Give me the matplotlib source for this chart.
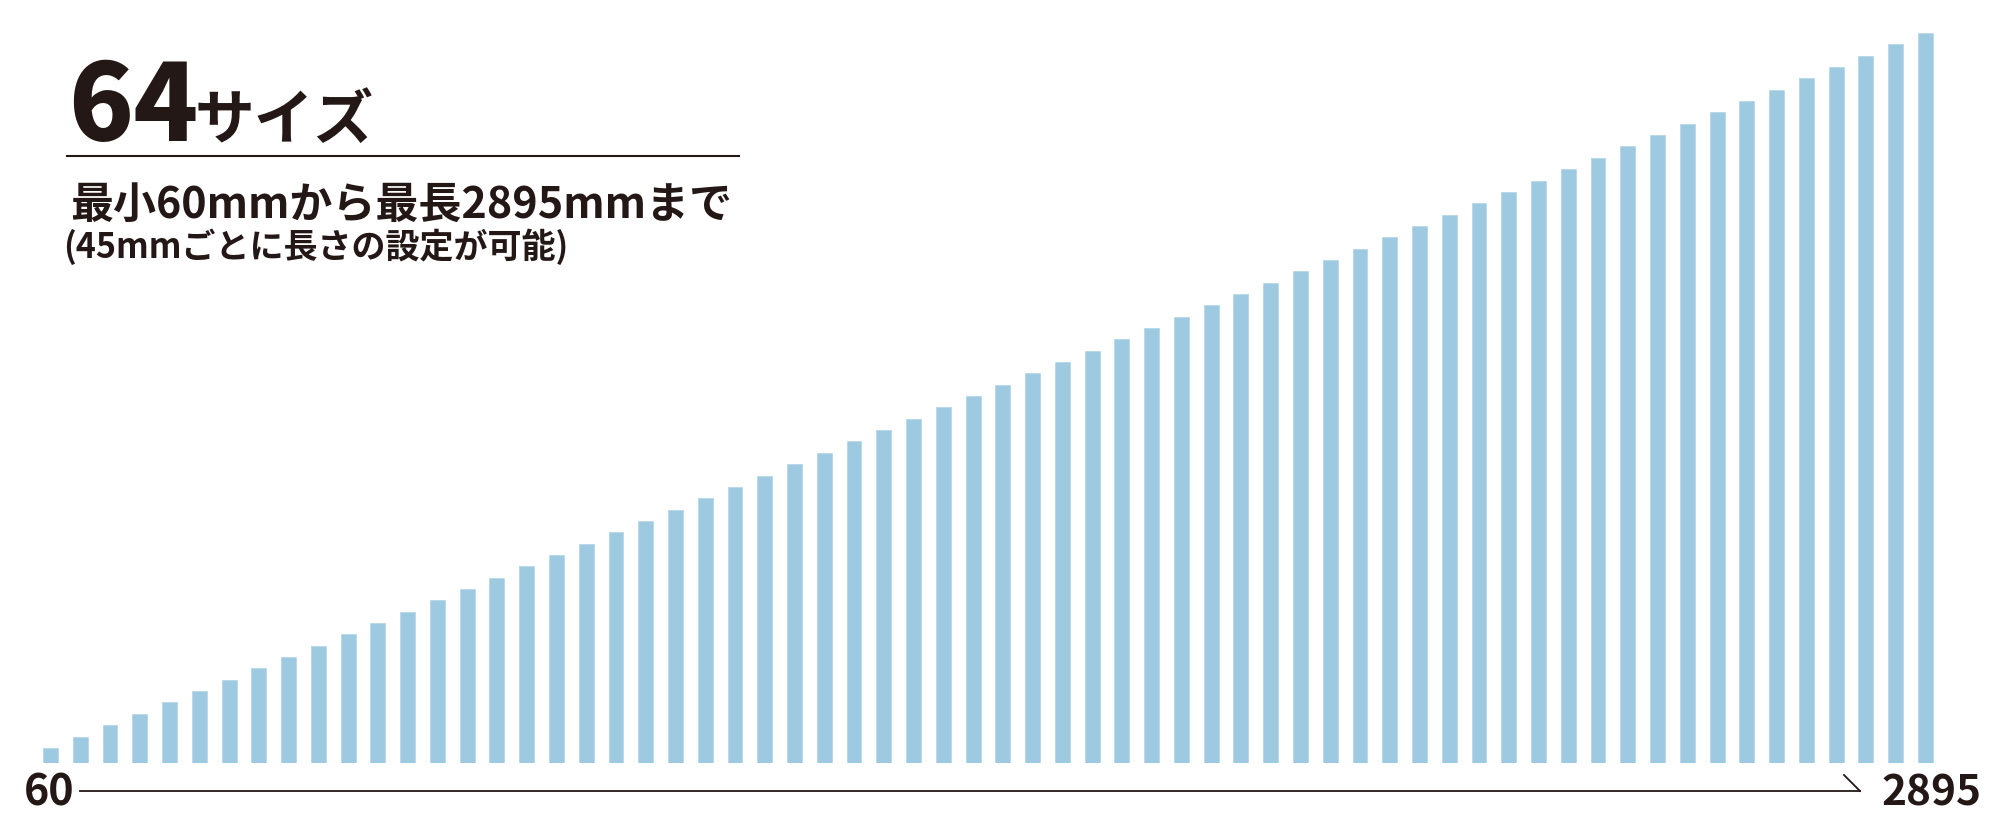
import matplotlib
matplotlib.use("Agg")
import matplotlib.pyplot as plt
from matplotlib.lines import Line2D

# ---------------- Data ----------------
# every available length in mm (60 to 2895, one bar per size)
lengths = [
    60, 105, 150, 195, 240, 285, 330, 375, 420, 465,
    510, 555, 600, 645, 690, 735, 780, 825, 870, 915,
    960, 1005, 1050, 1095, 1140, 1185, 1230, 1275, 1320, 1365,
    1410, 1455, 1500, 1545, 1590, 1635, 1680, 1725, 1770, 1815,
    1860, 1905, 1950, 1995, 2040, 2085, 2130, 2175, 2220, 2265,
    2310, 2355, 2400, 2445, 2490, 2535, 2580, 2625, 2670, 2715,
    2760, 2805, 2850, 2895,
]
title_num = str(len(lengths))
title_unit = "サイズ"
line1 = "最小60mmから最長2895mmまで"
line2 = "(45mmごとに長さの設定が可能)"

BAR_COLOR = "#9ECAE1"
INK = "#231815"
JP = ["Noto Sans CJK JP", "DejaVu Sans"]

W, H = 2000, 833
fig = plt.figure(figsize=(W / 100, H / 100), dpi=100)
fig.patch.set_facecolor("white")

# ---------------- Bars ----------------
pitch = 29.76          # px between bar centres
first_center = 50.5    # px
ax = fig.add_axes([0, 70 / H, 1, 730 / H])
idx = list(range(len(lengths)))
ax.bar(idx, lengths, width=0.5, color=BAR_COLOR,
       edgecolor="#B7D8EA", linewidth=0.6)
ax.set_xlim(-first_center / pitch, (W - first_center) / pitch)
ax.set_ylim(0, max(lengths))
ax.axis("off")

# ---------------- Overlay (pixel coords) ----------------
ov = fig.add_axes([0, 0, 1, 1], facecolor="none")
ov.set_xlim(0, W)
ov.set_ylim(H, 0)
ov.axis("off")

ov.text(68, 141, title_num, fontsize=77, fontweight="black", family=JP,
        color=INK, ha="left", va="baseline")
ov.text(195, 139, title_unit, fontsize=43, fontweight="bold", family=JP,
        color=INK, ha="left", va="baseline")
ov.add_line(Line2D([67, 739], [155.5, 155.5], color=INK, lw=1.5))
ov.text(70, 218, line1, fontsize=31, fontweight="bold", family=JP,
        color=INK, ha="left", va="baseline")
ov.text(63, 258, line2, fontsize=24.5, fontweight="bold", family=JP,
        color=INK, ha="left", va="baseline")

# axis arrow from min to max
ov.add_line(Line2D([80, 1860], [791, 791], color=INK, lw=1.3))
ov.add_line(Line2D([1844, 1860], [775, 791], color=INK, lw=1.3))
ov.text(24, 805, f"{lengths[0]}", fontsize=31, fontweight="bold",
        family=JP, color=INK, ha="left", va="baseline")
ov.text(1981, 805, f"{lengths[-1]}", fontsize=30.5, fontweight="bold",
        family=JP, color=INK, ha="right", va="baseline")

fig.savefig("out.png", dpi=100)
